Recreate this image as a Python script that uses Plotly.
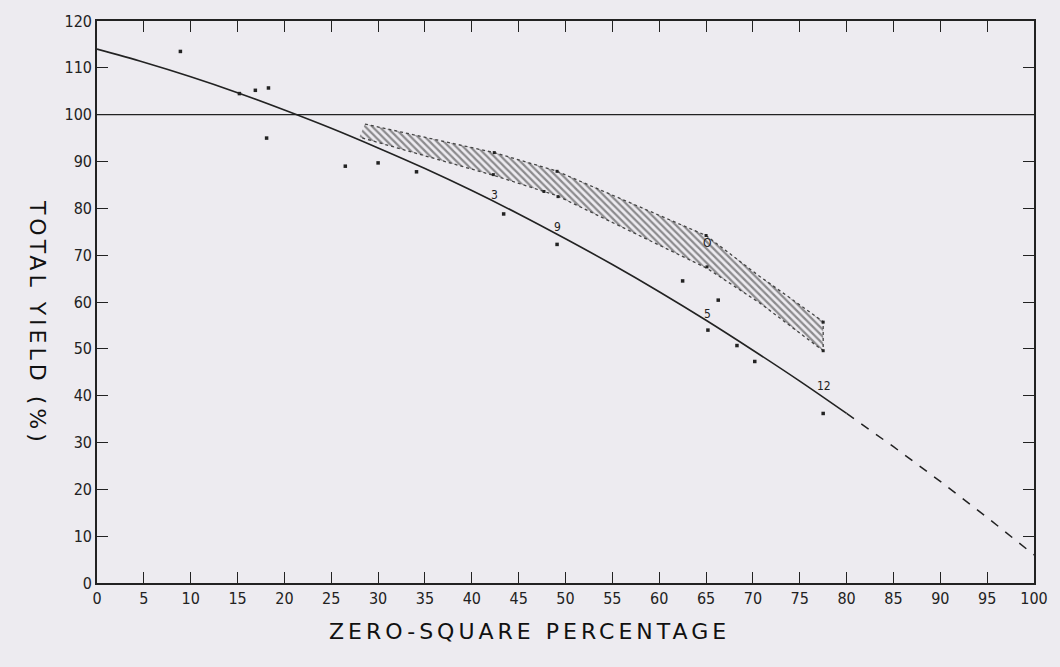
import plotly.graph_objects as go

# Fitted curve
curve_x = [0, 5, 10, 15, 20, 25, 30, 35, 40, 45, 50, 55, 60, 65, 70, 75, 80]
curve_y = [114, 111.2, 108.1, 104.7, 101.0, 97.1, 92.9, 88.5, 83.8, 78.8, 73.5, 68.0, 62.2, 56.1, 49.7, 43.1, 36.2]
ext_x = [80, 85, 90, 95, 100]
ext_y = [36.2, 29.1, 21.7, 14.0, 6.0]

# Reference line at 100 %
ref_x = [0, 100]
ref_y = [100, 100]

# Observed points
pts_x = [8.9, 15.2, 16.9, 18.3, 18.1, 26.5, 30.0, 34.1, 43.4, 49.1, 62.5, 66.3, 65.2, 68.3, 70.2, 77.5]
pts_y = [113.5, 104.5, 105.2, 105.7, 95.0, 89.0, 89.7, 87.8, 78.8, 72.3, 64.5, 60.4, 54.0, 50.7, 47.3, 36.2]

# Points on the band edges
band_pts_x = [42.4, 42.3, 47.7, 49.1, 49.2, 65.0, 65.1, 77.5, 77.5]
band_pts_y = [91.9, 87.2, 83.6, 87.9, 82.5, 74.2, 67.5, 55.7, 49.6]

# Hatched band edges
band_up_x = [28.6, 35, 42.4, 49, 55, 60, 65, 70.5, 77.5]
band_up_y = [98.0, 95.1, 91.9, 88.0, 82.8, 78.5, 74.2, 65.8, 55.8]
band_lo_x = [28.0, 35, 42.4, 49.1, 55, 60, 65.1, 70.8, 77.5]
band_lo_y = [95.2, 91.2, 87.0, 82.7, 77.0, 72.1, 67.2, 59.7, 49.6]

# Number labels on the chart
lab_text = ["3", "9", "5", "12", "O"]
lab_x = [42.4, 49.1, 65.2, 77.6, 65.2]
lab_y = [82.9, 76.0, 57.4, 42.0, 72.5]

x_ticks = list(range(0, 101, 5))
y_ticks = list(range(0, 121, 10))

ink = "#222222"
bg = "#EDEBF0"

fig = go.Figure()

# hatched band
fig.add_trace(go.Scatter(
    x=band_up_x + band_lo_x[::-1], y=band_up_y + band_lo_y[::-1],
    mode="lines", fill="toself", fillcolor="rgba(0,0,0,0)",
    fillpattern=dict(shape="\\", fgcolor="#2a2a2a", bgcolor="rgba(0,0,0,0)", size=5, solidity=0.45),
    line=dict(color="#444444", width=1.3, dash="dot"),
    hoverinfo="skip", showlegend=False))

fig.add_trace(go.Scatter(x=ref_x, y=ref_y, mode="lines",
                         line=dict(color=ink, width=1.3), showlegend=False))
fig.add_trace(go.Scatter(x=curve_x, y=curve_y, mode="lines", line_shape="spline",
                         line=dict(color=ink, width=1.6), showlegend=False))
fig.add_trace(go.Scatter(x=ext_x, y=ext_y, mode="lines",
                         line=dict(color=ink, width=1.5, dash="dash"), showlegend=False))
fig.add_trace(go.Scatter(x=pts_x, y=pts_y, mode="markers",
                         marker=dict(symbol="square", size=3.5, color=ink), showlegend=False))
fig.add_trace(go.Scatter(x=band_pts_x, y=band_pts_y, mode="markers",
                         marker=dict(symbol="square", size=3, color=ink), showlegend=False))

for t, x, y in zip(lab_text, lab_x, lab_y):
    fig.add_annotation(x=x, y=y, text=t, showarrow=False,
                       font=dict(family="DejaVu Sans Condensed, DejaVu Sans", size=12, color=ink))

fig.add_annotation(xref="paper", yref="paper", x=0.462, y=-0.087, yanchor="middle",
                   text='<span style="letter-spacing:4px">ZERO-SQUARE PERCENTAGE</span>',
                   showarrow=False,
                   font=dict(family="DejaVu Sans", size=22, color="#111111"))
fig.add_annotation(xref="paper", yref="paper", x=-0.079, y=0.462, yanchor="middle",
                   text='<span style="letter-spacing:4px">TOTAL YIELD (%)</span>',
                   showarrow=False, textangle=90,
                   font=dict(family="DejaVu Sans", size=22, color="#111111"))

axis_common = dict(showline=True, linecolor=ink, linewidth=1.6, mirror="ticks",
                   ticks="inside", ticklen=11, tickwidth=1.4, tickcolor=ink,
                   showgrid=False, zeroline=False,
                   tickfont=dict(family="Liberation Sans Narrow, DejaVu Sans Condensed", size=16, color=ink))

fig.update_xaxes(range=[0, 100], tickvals=x_ticks, ticktext=[str(v) for v in x_ticks], **axis_common)
fig.update_yaxes(range=[0, 120], tickvals=y_ticks, ticktext=[str(v) for v in y_ticks], **axis_common)

fig.update_layout(width=1060, height=667, paper_bgcolor=bg, plot_bgcolor=bg,
                  margin=dict(l=97, r=26, t=18, b=84), showlegend=False)

fig.write_html("out.html", config={"displayModeBar": False},
               post_script="document.body.style.margin='0px';document.body.style.background='#EDEBF0';")
